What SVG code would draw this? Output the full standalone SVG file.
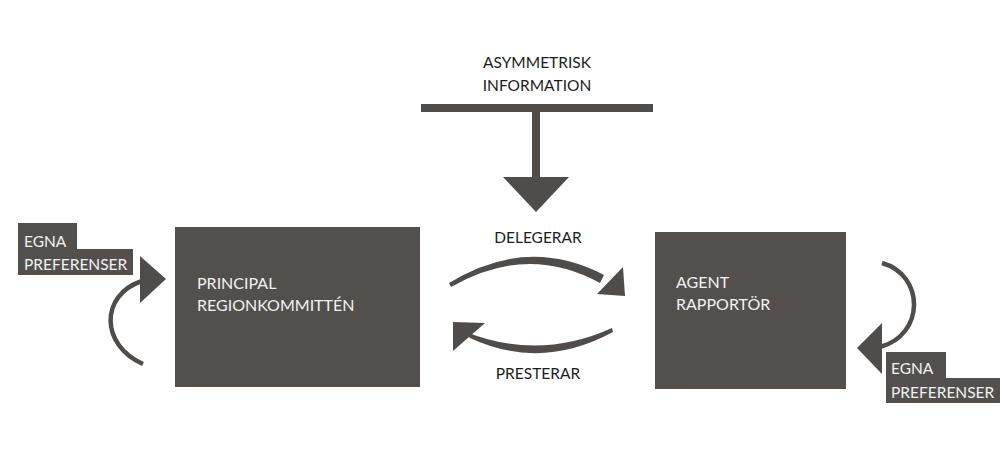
<svg xmlns="http://www.w3.org/2000/svg" width="1004" height="450" viewBox="0 0 1004 450">
<style>
.box{fill:#534f4c}
.ar{fill:#504c4a}
.ln{fill:none;stroke:#504c4a;stroke-width:4.5}
.t{font-family:Lato,"Liberation Sans",sans-serif;font-size:15.5px;fill:#1c1c1c}
.w{font-family:Lato,"Liberation Sans",sans-serif;font-size:16px;fill:#f2f2f2}
.lt{font-family:Lato,"Liberation Sans",sans-serif;font-size:15.5px;fill:#f2f2f2}
</style>
<rect width="1004" height="450" fill="#ffffff"/>
<g id="principal">
<rect class="box" x="175" y="227" width="245" height="160"/>
<text class="w" x="197" y="289">PRINCIPAL</text>
<text class="w" x="197" y="311">REGIONKOMMITTÉN</text>
</g>
<g id="agent">
<rect class="box" x="655" y="232" width="191" height="157"/>
<text class="w" x="676" y="288">AGENT</text>
<text class="w" x="676" y="310">RAPPORTÖR</text>
</g>
<g id="asym">
<text class="t" x="537" y="68" text-anchor="middle">ASYMMETRISK</text>
<text class="t" x="537" y="91" text-anchor="middle">INFORMATION</text>
<rect class="ar" x="421" y="104" width="232" height="8"/>
</g>
<g id="egna-left">
<path class="box" d="M18,223H77V249H133V275H18Z"/>
<text class="lt" x="24" y="247">EGNA</text>
<text class="lt" x="24" y="270">PREFERENSER</text>
</g>
<g id="egna-right">
<path class="box" d="M886,352H946V378H1000V403H886Z"/>
<text class="lt" x="891" y="374">EGNA</text>
<text class="lt" x="891" y="398">PREFERENSER</text>
</g>
<g id="connectors">
<rect class="ar" x="532" y="112" width="8" height="66"/>
<polygon class="ar" points="503,177 569,177 536,212"/>
<path class="ar" d="M449,283 Q527,235 604,275 L600,283 Q527,243 451,287 Z"/>
<polygon class="ar" points="623,267 597,294 625,296"/>
<text class="t" x="538" y="243" text-anchor="middle">DELEGERAR</text>
<path class="ar" d="M613,332 Q541,371 470,338 L466,332 Q539,361 612,328 Z"/>
<polygon class="ar" points="453,322 485,323 453,351"/>
<text class="t" x="538" y="379" text-anchor="middle">PRESTERAR</text>
<path class="ln" d="M143,364 C100,345 100,295 142,281"/>
<polygon class="ar" points="140,256 166,279 140,303"/>
<path class="ln" d="M882,263 C925,275 925,335 880,347"/>
<polygon class="ar" points="882,323 857,348 882,374"/>
</g>
</svg>
